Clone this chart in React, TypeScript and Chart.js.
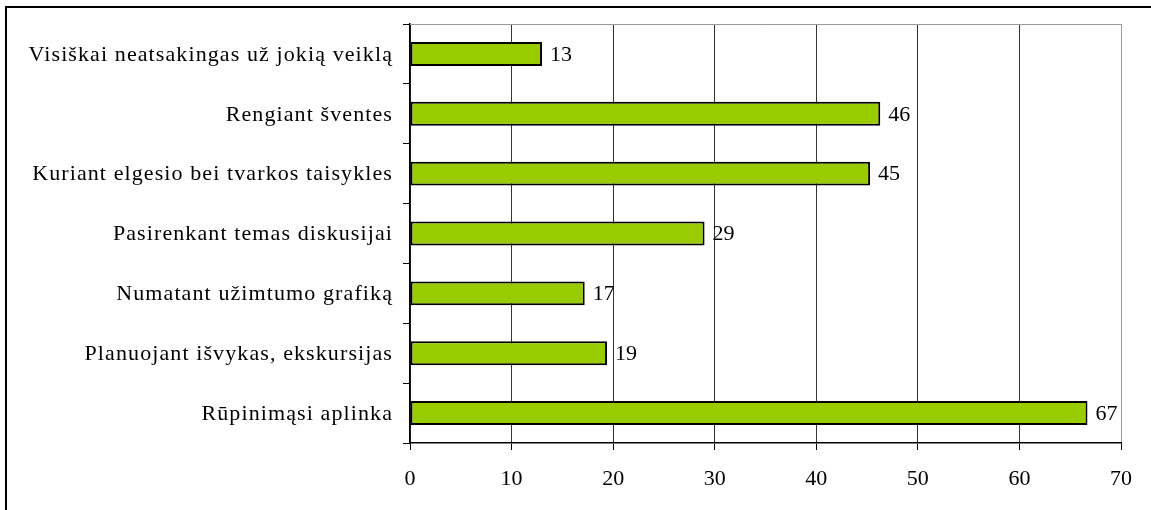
import React, { useEffect, useRef } from "react";
import { Chart, registerables } from "chart.js";

Chart.register(...registerables);

const categories = [
  "Visiškai neatsakingas už jokią veiklą",
  "Rengiant šventes",
  "Kuriant elgesio bei tvarkos taisykles",
  "Pasirenkant temas diskusijai",
  "Numatant užimtumo grafiką",
  "Planuojant išvykas, ekskursijas",
  "Rūpinimąsi aplinka",
];
const values = [13, 46.3, 45.3, 29, 17.2, 19.4, 66.7];
const xTicks = [0, 10, 20, 30, 40, 50, 60, 70];

const FONT = "'Liberation Serif', 'Times New Roman', serif";

export default function App() {
  const ref = useRef<HTMLCanvasElement | null>(null);

  useEffect(() => {
    if (!ref.current) return;

    const framePlugin = {
      id: "frame",
      beforeDraw(chart: any) {
        const ctx = chart.ctx;
        ctx.save();
        ctx.fillStyle = "#ffffff";
        ctx.fillRect(0, 0, chart.width, chart.height);
        ctx.strokeStyle = "#000000";
        ctx.lineWidth = 2;
        ctx.beginPath();
        ctx.moveTo(6, chart.height + 5);
        ctx.lineTo(6, 7);
        ctx.lineTo(chart.width + 5, 7);
        ctx.stroke();
        ctx.restore();
      },
      beforeDatasetsDraw(chart: any) {
        const ctx = chart.ctx;
        const a = chart.chartArea;
        ctx.save();
        ctx.strokeStyle = "#999999";
        ctx.lineWidth = 1;
        ctx.beginPath();
        ctx.moveTo(a.left, Math.round(a.top) + 0.5);
        ctx.lineTo(a.right, Math.round(a.top) + 0.5);
        ctx.stroke();
        // category labels
        const yScale = chart.scales.y;
        ctx.fillStyle = "#000000";
        ctx.font = `22px ${FONT}`;
        (ctx as any).letterSpacing = "1.1px";
        ctx.textAlign = "right";
        ctx.textBaseline = "middle";
        categories.forEach((c, i) => {
          ctx.fillText(c, 393, yScale.getPixelForValue(i) + 1);
        });
        (ctx as any).letterSpacing = "0px";
        ctx.restore();
      },
      afterDatasetsDraw(chart: any) {
        const ctx = chart.ctx;
        const meta = chart.getDatasetMeta(0);
        ctx.save();
        ctx.fillStyle = "#000000";
        ctx.font = `22px ${FONT}`;
        ctx.textAlign = "left";
        ctx.textBaseline = "middle";
        meta.data.forEach((bar: any, i: number) => {
          ctx.fillText(String(Math.round(values[i])), bar.x + 8, bar.y + 1);
        });
        ctx.restore();
      },
    };

    const chart = new Chart(ref.current, {
      type: "bar",
      data: {
        labels: categories,
        datasets: [
          {
            data: values,
            backgroundColor: "#99CC00",
            borderColor: "#000000",
            borderWidth: 2,
            borderSkipped: false,
            barPercentage: 0.4,
            categoryPercentage: 1,
          },
        ],
      },
      options: {
        indexAxis: "y",
        responsive: false,
        animation: false,
        devicePixelRatio: 1,
        layout: { padding: { top: 24, right: 30, left: 0, bottom: 0 } },
        plugins: {
          legend: { display: false },
          tooltip: { enabled: false },
        },
        scales: {
          x: {
            min: 0,
            max: 70,
            afterBuildTicks(scale: any) {
              scale.ticks = xTicks.map((v) => ({ value: v }));
            },
            afterFit(scale: any) {
              scale.height = 67;
            },
            grid: {
              color: (c: any) => (c.index === 7 ? "#999999" : "#333333"),
              lineWidth: 1,
              tickLength: 7,
              tickColor: "#000000",
              drawTicks: true,
            },
            border: { color: "#000000", width: 1.5 },
            ticks: {
              color: "#000000",
              font: { family: FONT, size: 22 },
              padding: 16,
              maxRotation: 0,
            },
          },
          y: {
            afterFit(scale: any) {
              scale.width = 410;
            },
            grid: {
              drawOnChartArea: false,
              tickLength: 7,
              tickColor: "#000000",
              offset: true,
            },
            border: { color: "#000000", width: 1.5 },
            ticks: {
              display: false,
              autoSkip: false,
            },
          },
        },
      },
      plugins: [framePlugin],
    });

    return () => chart.destroy();
  }, []);

  return (
    <div style={{ position: "fixed", left: 0, top: 0, width: 1151, height: 510, background: "#fff" }}>
      <canvas ref={ref} width={1151} height={510} style={{ display: "block" }} />
    </div>
  );
}
